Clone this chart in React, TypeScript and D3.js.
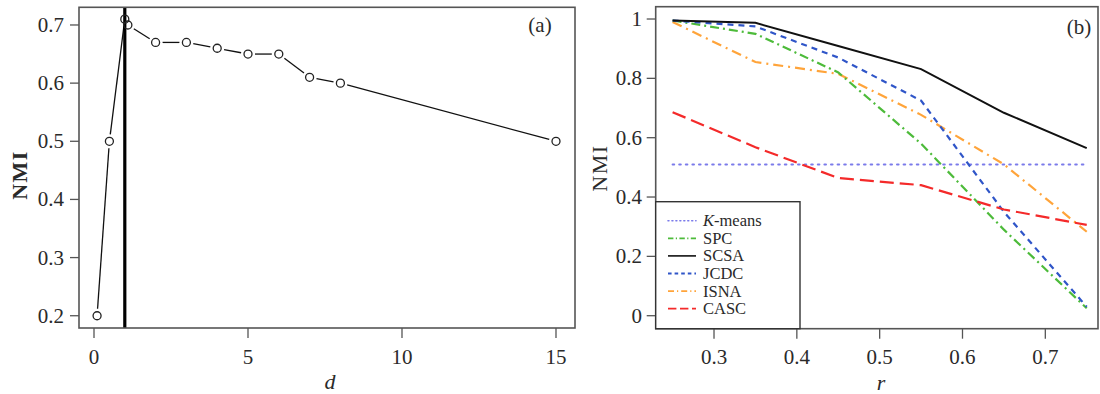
import React from "react";
import * as d3 from "d3";

// ---- Panel (a) data ----
const dValues = [0.1, 0.5, 1, 1.1, 2, 3, 4, 5, 6, 7, 8, 15];
const nmiA = [0.2, 0.5, 0.71, 0.7, 0.67, 0.67, 0.66, 0.65, 0.65, 0.61, 0.6, 0.5];
const aXTicks = [0, 5, 10, 15];
const aYTicks = [0.2, 0.3, 0.4, 0.5, 0.6, 0.7];
const chosenD = 1;

// ---- Panel (b) data ----
const rValues = [0.25, 0.35, 0.45, 0.55, 0.65, 0.75];
const kmeans = [0.51, 0.51, 0.51, 0.51, 0.51, 0.51];
const spc = [0.995, 0.95, 0.82, 0.58, 0.29, 0.025];
const scsa = [0.995, 0.987, 0.909, 0.831, 0.684, 0.565];
const jcdc = [0.995, 0.975, 0.87, 0.725, 0.35, 0.03];
const isna = [0.99, 0.855, 0.815, 0.677, 0.51, 0.283];
const casc = [0.686, 0.568, 0.464, 0.44, 0.358, 0.306];
const seriesNames = ["K-means", "SPC", "SCSA", "JCDC", "ISNA", "CASC"];
const bXTicks = [0.3, 0.4, 0.5, 0.6, 0.7];
const bYTicks = [0, 0.2, 0.4, 0.6, 0.8, 1];
const bYTickLabels = ["0", "0.2", "0.4", "0.6", "0.8", "1"];

const FONT = "Liberation Serif, Times New Roman, Times, serif";
const TXT = "#2a2a2a";
const BOX = "#555";

export default function App() {
  // panel a scales
  const axL = 79, axR = 575, ayT = 7.3, ayB = 328;
  const xA = d3.scaleLinear().domain([-0.487, 15.617]).range([axL, axR]);
  const yA = d3.scaleLinear().domain([0.1789, 0.7304]).range([ayB, ayT]);

  // panel b scales
  const bxL = 655.7, bxR = 1098, byT = 6.7, byB = 328.7;
  const xB = d3.scaleLinear().domain([0.2296, 0.7636]).range([bxL, bxR]);
  const yB = d3.scaleLinear().domain([-0.0438, 1.0415]).range([byB, byT]);

  const ptsA = dValues.map((d, i) => [xA(d), yA(nmiA[i])] as [number, number]);
  const gap = 7;
  const segsA: string[] = [];
  for (let i = 0; i < ptsA.length - 1; i++) {
    const [x1, y1] = ptsA[i];
    const [x2, y2] = ptsA[i + 1];
    const L = Math.hypot(x2 - x1, y2 - y1);
    if (L <= 2 * gap) continue;
    const ux = (x2 - x1) / L, uy = (y2 - y1) / L;
    segsA.push(`M${x1 + ux * gap},${y1 + uy * gap}L${x2 - ux * gap},${y2 - uy * gap}`);
  }

  const lineB = d3
    .line<number>()
    .x((_, i) => xB(rValues[i]))
    .y((v) => yB(v));

  const styles = [
    { data: kmeans, color: "#7b7bea", dash: "1.6,5", width: 2, cap: "round" },
    { data: spc, color: "#4dbb3a", dash: "9,4,2,4", width: 2.2, cap: "butt" },
    { data: scsa, color: "#111", dash: "", width: 2, cap: "butt" },
    { data: jcdc, color: "#2f55c8", dash: "6,5", width: 2.2, cap: "butt" },
    { data: isna, color: "#ffa43a", dash: "10,5,2,5", width: 2.2, cap: "butt" },
    { data: casc, color: "#f42a2a", dash: "14,6", width: 2.2, cap: "butt" },
  ];
  const drawOrder = [0, 4, 1, 3, 5, 2];

  const legX = bxL, legY = 201.7, legW = 800 - bxL, legH = byB - 201.7;

  return (
    <svg width={1100} height={394} style={{ display: "block", position: "absolute", left: 0, top: 0 }} fontFamily={FONT}>
      <rect x={0} y={0} width={1100} height={394} fill="#fff" />
      {/* ---------- Panel (a) ---------- */}
      <g>
        {segsA.map((d, i) => (
          <path key={i} d={d} stroke="#111" strokeWidth={1.3} fill="none" />
        ))}
        <line x1={xA(chosenD)} x2={xA(chosenD)} y1={ayT} y2={ayB} stroke="#000" strokeWidth={3.2} />
        {ptsA.map(([x, y], i) => (
          <circle key={i} cx={x} cy={y} r={4} fill="none" stroke="#222" strokeWidth={1.3} />
        ))}
        <rect x={axL} y={ayT} width={axR - axL} height={ayB - ayT} fill="none" stroke={BOX} strokeWidth={1.6} />
        {aXTicks.map((t) => (
          <g key={t}>
            <line x1={xA(t)} x2={xA(t)} y1={ayB} y2={ayB + 10} stroke={BOX} strokeWidth={1.3} />
            <text x={xA(t)} y={364} fontSize={21} textAnchor="middle" fill={TXT}>{t}</text>
          </g>
        ))}
        {aYTicks.map((t) => (
          <g key={t}>
            <line x1={axL - 9} x2={axL} y1={yA(t)} y2={yA(t)} stroke={BOX} strokeWidth={1.3} />
            <text x={64} y={yA(t) + 7} fontSize={21} textAnchor="end" fill={TXT}>{t.toFixed(1)}</text>
          </g>
        ))}
        <text x={330} y={389} fontSize={22} fontStyle="italic" textAnchor="middle" fill={TXT}>d</text>
        <text transform="translate(27,175) rotate(-90)" fontSize={22} fontWeight="bold" textAnchor="middle" fill={TXT} letterSpacing={1.5}>NMI</text>
        <text x={540} y={32} fontSize={21} textAnchor="middle" fill={TXT}>(a)</text>
      </g>

      {/* ---------- Panel (b) ---------- */}
      <g>
        {drawOrder.map((k) => {
          const s = styles[k];
          return (
            <path
              key={k}
              d={lineB(s.data) || ""}
              fill="none"
              stroke={s.color}
              strokeWidth={s.width}
              strokeDasharray={s.dash || undefined}
              strokeLinecap={s.cap as any}
            />
          );
        })}
        <rect x={bxL} y={byT} width={bxR - bxL} height={byB - byT} fill="none" stroke={BOX} strokeWidth={1.6} />
        {bXTicks.map((t) => (
          <g key={t}>
            <line x1={xB(t)} x2={xB(t)} y1={byB} y2={byB + 10} stroke={BOX} strokeWidth={1.3} />
            <text x={xB(t)} y={364} fontSize={21} textAnchor="middle" fill={TXT}>{t.toFixed(1)}</text>
          </g>
        ))}
        {bYTicks.map((t, i) => (
          <g key={t}>
            <line x1={bxL - 9} x2={bxL} y1={yB(t)} y2={yB(t)} stroke={BOX} strokeWidth={1.3} />
            <text x={642} y={yB(t) + 7} fontSize={21} textAnchor="end" fill={TXT}>{bYTickLabels[i]}</text>
          </g>
        ))}
        <text x={881} y={390} fontSize={22} fontStyle="italic" textAnchor="middle" fill={TXT}>r</text>
        <text transform="translate(607,168) rotate(-90)" fontSize={22} textAnchor="middle" fill={TXT} letterSpacing={1.5}>NMI</text>
        <text x={1079} y={34} fontSize={21} textAnchor="middle" fill={TXT}>(b)</text>

        {/* legend */}
        <rect x={legX} y={legY} width={legW} height={legH} fill="#fff" stroke="#333" strokeWidth={1.4} />
        {styles.map((s, i) => {
          const yy = legY + 19 + i * 17.6;
          return (
            <g key={i}>
              <line
                x1={668}
                x2={696}
                y1={yy}
                y2={yy}
                stroke={s.color}
                strokeWidth={s.width * 0.8}
                strokeDasharray={s.dash ? s.dash.split(",").map((v) => +v * 0.6).join(",") : undefined}
                strokeLinecap={s.cap as any}
              />
              <text x={703} y={yy + 5.5} fontSize={16.5} fill={TXT}>
                {i === 0 ? (
                  <>
                    <tspan fontStyle="italic">K</tspan>-means
                  </>
                ) : (
                  seriesNames[i]
                )}
              </text>
            </g>
          );
        })}
      </g>
    </svg>
  );
}
